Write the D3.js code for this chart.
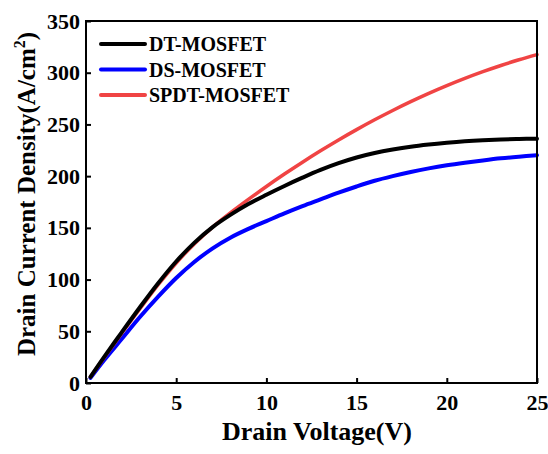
<!DOCTYPE html>
<html>
<head>
<meta charset="utf-8" />
<style>
body { margin: 0; background: white; }
svg { display: block; }
.axis text {
  font-family: "Liberation Serif", "Times New Roman", serif;
  font-weight: bold;
  font-size: 22px;
  fill: black;
}
.axis line { stroke: black; stroke-width: 2; }
.title, .legend text {
  font-family: "Liberation Serif", "Times New Roman", serif;
  font-weight: bold;
  fill: black;
}
</style>
<script src="https://cdnjs.cloudflare.com/ajax/libs/d3/7.8.5/d3.min.js"></script>
</head>
<body>
<div id="chart"></div>
<script>
// drain voltage (V)
var voltage = [0.25, 1, 2, 3, 4, 5, 6, 7, 8, 9, 10, 11, 12, 13, 14, 15, 16, 17, 18, 19, 20, 21, 22, 23, 24, 25];
// drain current density (A/cm^2)
var dtMosfet   = [6, 25, 49.5, 73.5, 96.5, 117.5, 135.5, 150.5, 162.5, 173, 182, 190.5, 198.5, 206, 212.5, 218, 222.3, 225.7, 228.5, 230.6, 232.3, 233.7, 234.7, 235.4, 235.9, 236.2];
var dsMosfet   = [5, 22, 43, 64, 83.5, 101.5, 117, 130, 140.5, 149, 156.5, 164, 171, 177.5, 184, 190, 195.5, 200, 204, 207.5, 210.5, 213, 215.2, 217.2, 218.8, 220.2];
var spdtMosfet = [6, 24.5, 48.5, 72, 95, 116, 134.5, 150.5, 164.5, 177.5, 190, 202, 213.5, 224.5, 235, 245, 254.5, 263.5, 272, 280, 287.5, 294.5, 301, 307, 312.5, 317.5];

var seriesNames = ["DT-MOSFET", "DS-MOSFET", "SPDT-MOSFET"];
var seriesColors = ["#000000", "#0000ff", "#f04444"];
var xTicks = [0, 5, 10, 15, 20, 25];
var yTicks = [0, 50, 100, 150, 200, 250, 300, 350];

var margin = { top: 21, right: 11, bottom: 71, left: 86 },
    width = 548 - margin.left - margin.right,
    height = 454 - margin.top - margin.bottom;

var svg = d3.select("#chart").append("svg")
    .attr("width", 548)
    .attr("height", 454);

var g = svg.append("g")
    .attr("transform", "translate(" + margin.left + "," + margin.top + ")");

var x = d3.scaleLinear().domain([0, 25]).range([0, width]);
var y = d3.scaleLinear().domain([0, 350]).range([height, 0]);

// axes, ticks pointing inward
g.append("g")
    .attr("class", "axis")
    .attr("transform", "translate(0," + height + ")")
    .call(d3.axisBottom(x).tickValues(xTicks).tickSize(-5).tickPadding(11))
    .call(function(s) { s.select(".domain").remove(); });

g.append("g")
    .attr("class", "axis")
    .call(d3.axisLeft(y).tickValues(yTicks).tickSize(-5).tickPadding(6))
    .call(function(s) { s.select(".domain").remove(); });

var data = [dtMosfet, dsMosfet, spdtMosfet];

var line = d3.line()
    .x(function(d, i) { return x(voltage[i]); })
    .y(function(d) { return y(d); })
    .curve(d3.curveCatmullRom.alpha(0.5));

// draw blue, red, then black on top
[1, 2, 0].forEach(function(k) {
  g.append("path")
      .datum(data[k])
      .attr("fill", "none")
      .attr("stroke", seriesColors[k])
      .attr("stroke-width", k == 2 ? 3.5 : 4)
      .attr("stroke-linecap", "round")
      .attr("d", line);
});

// frame
g.append("rect")
    .attr("width", width)
    .attr("height", height)
    .attr("fill", "none")
    .attr("stroke", "black")
    .attr("stroke-width", 2);

// legend
var legend = g.selectAll(".legend")
    .data(seriesNames)
    .enter().append("g")
    .attr("class", "legend")
    .attr("transform", function(d, i) { return "translate(15," + (23 + i * 25.5) + ")"; });

legend.append("line")
    .attr("x1", 0).attr("x2", 44)
    .attr("stroke", function(d, i) { return seriesColors[i]; })
    .attr("stroke-width", 4)
    .attr("stroke-linecap", "round");

legend.append("text")
    .attr("x", 48)
    .attr("y", 7)
    .attr("font-size", "20px")
    .text(function(d) { return d; });

// axis titles
svg.append("text")
    .attr("class", "title")
    .attr("text-anchor", "middle")
    .attr("x", 317)
    .attr("y", 440)
    .attr("font-size", "26px")
    .text("Drain Voltage(V)");

var yt = svg.append("text")
    .attr("class", "title")
    .attr("text-anchor", "middle")
    .attr("font-size", "25px")
    .attr("transform", "translate(35,194)rotate(-90)");
yt.append("tspan").text("Drain Current Density(A/cm");
yt.append("tspan").attr("font-size", "16px").attr("dy", "-10").text("2");
yt.append("tspan").attr("dy", "10").text(")");
</script>
</body>
</html>
